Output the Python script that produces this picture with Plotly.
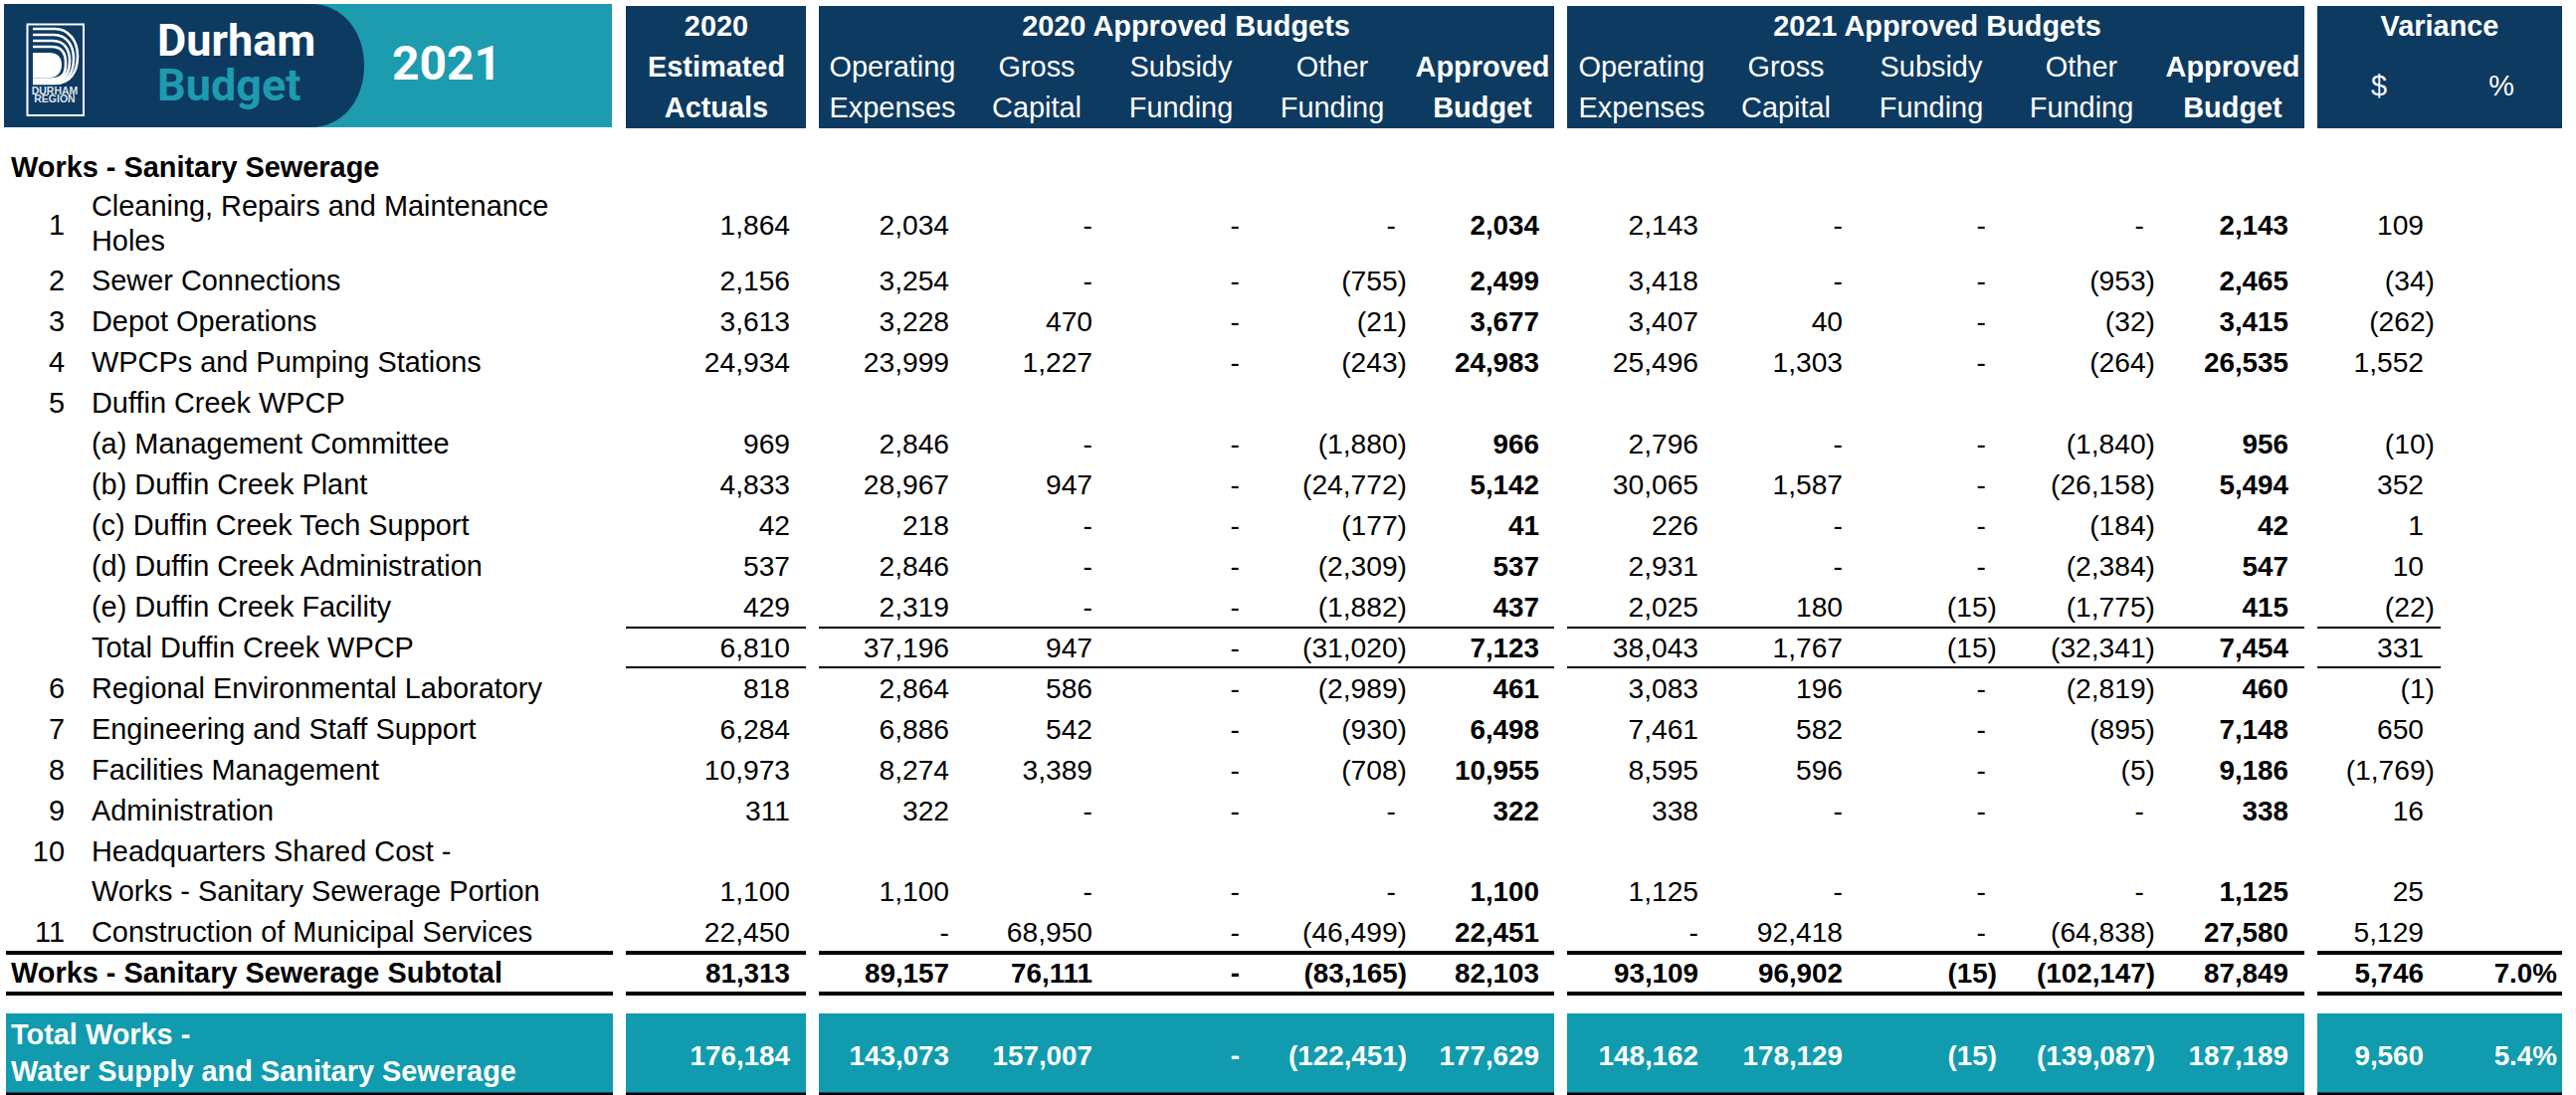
import plotly.graph_objects as go

# ---------- data ----------
row_numbers = ["1", "2", "3", "4", "5", "", "", "", "", "", "", "6", "7", "8", "9", "10", "", "11"]
row_labels = [
    "Cleaning, Repairs and Maintenance<br>Holes", "Sewer Connections", "Depot Operations",
    "WPCPs and Pumping Stations", "Duffin Creek WPCP", "(a) Management Committee",
    "(b) Duffin Creek Plant", "(c) Duffin Creek Tech Support", "(d) Duffin Creek Administration",
    "(e) Duffin Creek Facility", "Total Duffin Creek WPCP", "Regional Environmental Laboratory",
    "Engineering and Staff Support", "Facilities Management", "Administration",
    "Headquarters Shared Cost -", "Works - Sanitary Sewerage Portion", "Construction of Municipal Services",
]
estimated_2020 = [1864, 2156, 3613, 24934, None, 969, 4833, 42, 537, 429, 6810, 818, 6284, 10973, 311, None, 1100, 22450, 81313, 176184]
operating_2020 = [2034, 3254, 3228, 23999, None, 2846, 28967, 218, 2846, 2319, 37196, 2864, 6886, 8274, 322, None, 1100, 0, 89157, 143073]
gross_2020 = [0, 0, 470, 1227, None, 0, 947, 0, 0, 0, 947, 586, 542, 3389, 0, None, 0, 68950, 76111, 157007]
subsidy_2020 = [0, 0, 0, 0, None, 0, 0, 0, 0, 0, 0, 0, 0, 0, 0, None, 0, 0, 0, 0]
other_2020 = [0, -755, -21, -243, None, -1880, -24772, -177, -2309, -1882, -31020, -2989, -930, -708, 0, None, 0, -46499, -83165, -122451]
approved_2020 = [2034, 2499, 3677, 24983, None, 966, 5142, 41, 537, 437, 7123, 461, 6498, 10955, 322, None, 1100, 22451, 82103, 177629]
operating_2021 = [2143, 3418, 3407, 25496, None, 2796, 30065, 226, 2931, 2025, 38043, 3083, 7461, 8595, 338, None, 1125, 0, 93109, 148162]
gross_2021 = [0, 0, 40, 1303, None, 0, 1587, 0, 0, 180, 1767, 196, 582, 596, 0, None, 0, 92418, 96902, 178129]
subsidy_2021 = [0, 0, 0, 0, None, 0, 0, 0, 0, -15, -15, 0, 0, 0, 0, None, 0, 0, -15, -15]
other_2021 = [0, -953, -32, -264, None, -1840, -26158, -184, -2384, -1775, -32341, -2819, -895, -5, 0, None, 0, -64838, -102147, -139087]
approved_2021 = [2143, 2465, 3415, 26535, None, 956, 5494, 42, 547, 415, 7454, 460, 7148, 9186, 338, None, 1125, 27580, 87849, 187189]
variance_dollar = [109, -34, -262, 1552, None, -10, 352, 1, 10, -22, 331, -1, 650, -1769, 16, None, 25, 5129, 5746, 9560]
variance_percent = ["7.0%", "5.4%"]

# ---------- layout constants ----------
W, H = 2589, 1101
NAVY, TEAL_B, TEAL_T = "#0D3A61", "#1D9BAF", "#119BAE"
FONT = "Liberation Sans"
BANNER = "Roboto"
FS = 28.9      # labels and headers
FN = 28.2      # regular numbers
FB = 27.8      # bold numbers
DY = 2         # text baseline correction
ROW_Y = [227, 283, 324, 365, 406, 447, 488, 529, 570, 611, 652, 693, 734, 775, 816, 857, 897, 938, 979, 1062]
COLS = [  # values, right edge, bold body
    (estimated_2020, 794, False), (operating_2020, 954, False), (gross_2020, 1098, False),
    (subsidy_2020, 1246, False), (other_2020, 1403, False), (approved_2020, 1547, True),
    (operating_2021, 1707, False), (gross_2021, 1852, False), (subsidy_2021, 1996, False),
    (other_2021, 2155, False), (approved_2021, 2300, True), (variance_dollar, 2436, False),
]
PAREN = 11
BOXES = [(629, 810), (823, 1562), (1575, 2316), (2329, 2575)]

fig = go.Figure()
shapes = []


def rect(x0, y0, x1, y1, color):
    shapes.append(dict(type="rect", x0=x0, y0=y0, x1=x1, y1=y1, fillcolor=color, line_width=0, layer="below"))


def path(d, fill=None, line=None, width=0):
    shapes.append(dict(type="path", path=d, fillcolor=fill or "rgba(0,0,0,0)", layer="below",
                       line=dict(color=line or "rgba(0,0,0,0)", width=width)))


def hline(y, x0, x1, w):
    shapes.append(dict(type="line", x0=x0, x1=x1, y0=y, y1=y, line=dict(color="black", width=w), layer="above"))


def text(xs, ys, ts, pos, size=FS, bold=False, color="black", family=FONT, dy=DY):
    fig.add_trace(go.Scatter(
        x=xs, y=[y + dy for y in ys], text=ts, mode="text", textposition=pos, showlegend=False, hoverinfo="skip",
        textfont=dict(family=family, size=size, color=color, weight=700 if bold else 400)))


def fmt(v):
    if v is None:
        return ""
    if v == 0:
        return "-"
    return f"({-v:,})" if v < 0 else f"{v:,}"


# ---------- banner ----------
rect(4, 4, 615, 128, TEAL_B)
path("M4,4 L312,4 C345,4 366,32 366,66 C366,100 345,128 312,128 L4,128 Z", fill=NAVY)
rect(26.5, 23.5, 85, 117, "white")
rect(28.5, 25.5, 83, 115, NAVY)
for k in range(4):
    t, b, r = 29 + 6 * k, 84 - 1.5 * k, 78 - 4 * k
    m = 55 - 1.0 * k
    path(f"M33,{t} L{m},{t} C{m+14},{t} {r},{t+12} {r},{(t+b)/2} C{r},{b-10} {m+14},{b} {m},{b} L33,{b}",
         line="white", width=2.6)
path("M33,53 L50,53 C58,53 62,58 62,65 C62,72 58,78 50,78 L33,78 Z", fill="white")
text([55], [92], ["DURHAM"], "middle center", size=10.5, bold=True, color="#DDE6EE", dy=0)
text([55], [100.5], ["REGION"], "middle center", size=10.5, bold=True, color="#DDE6EE", dy=0)
text([158], [45], ["Durham"], "middle right", size=45, bold=True, color="white", family=BANNER, dy=0)
text([158], [90], ["Budget"], "middle right", size=45, bold=True, color=TEAL_B, family=BANNER, dy=0)
text([394], [68], ["2021"], "middle right", size=48, bold=True, color="white", family=BANNER, dy=0)

# ---------- header boxes ----------
for x0, x1 in BOXES:
    rect(x0, 6, x1, 129, NAVY)
text([720], [27], ["2020"], "middle center", bold=True, color="white")
text([720], [68], ["Estimated"], "middle center", bold=True, color="white")
text([720], [109], ["Actuals"], "middle center", bold=True, color="white")
text([1192, 1947, 2452], [27] * 3, ["2020 Approved Budgets", "2021 Approved Budgets", "Variance"],
     "middle center", bold=True, color="white")
hdr_x = [897, 1042, 1187, 1339, 1650, 1795, 1941, 2092]
text(hdr_x, [68] * 8, ["Operating", "Gross", "Subsidy", "Other"] * 2, "middle center", color="white")
text(hdr_x, [109] * 8, ["Expenses", "Capital", "Funding", "Funding"] * 2, "middle center", color="white")
text([1490, 2244], [68] * 2, ["Approved"] * 2, "middle center", bold=True, color="white")
text([1490, 2244], [109] * 2, ["Budget"] * 2, "middle center", bold=True, color="white")
text([2391, 2514], [87] * 2, ["$", "%"], "middle center", color="white")

# ---------- labels ----------
text([11], [169], ["Works - Sanitary Sewerage"], "middle right", bold=True)
n_y = ROW_Y[:18]
text([65] * 18, n_y, row_numbers, "middle left")
first_a, first_b = row_labels[0].split("<br>")
text([92, 92], [208, 243], [first_a, first_b], "middle right")
text([92] * 17, n_y[1:], row_labels[1:], "middle right")
text([11], [979], ["Works - Sanitary Sewerage Subtotal"], "middle right", bold=True)
rect(6, 1019, 616, 1099, TEAL_T)
text([11], [1041], ["Total Works -"], "middle right", bold=True, color="white")
text([11], [1078], ["Water Supply and Sanitary Sewerage"], "middle right", bold=True, color="white")

# ---------- values ----------
for x0, x1 in [(6, 616)] + BOXES:
    rect(x0, 1019, x1, 1099, TEAL_T)
    hline(958, x0, x1, 4)
    hline(999, x0, x1, 4)
    hline(1100, x0, x1, 3)
for x0, x1 in BOXES[:3]:
    hline(631, x0, x1, 2)
    hline(671, x0, x1, 2)
hline(631, 2329, 2453, 2)
hline(671, 2329, 2453, 2)

for vals, edge, bold in COLS:
    xs = [edge + PAREN if (v is not None and v < 0) else edge for v in vals]
    ts = [fmt(v) for v in vals]
    # body rows, subtotal (bold), grand total (white bold)
    if bold:
        text(xs[:-1], ROW_Y[:-1], ts[:-1], "middle left", size=FB, bold=True)
    else:
        text(xs[:-2], ROW_Y[:-2], ts[:-2], "middle left", size=FN)
        text(xs[-2:-1], ROW_Y[-2:-1], ts[-2:-1], "middle left", size=FB, bold=True)
    text(xs[-1:], ROW_Y[-1:], ts[-1:], "middle left", size=FB, bold=True, color="white")
text([2570], [979], variance_percent[:1], "middle left", size=FB, bold=True)
text([2570], [1062], variance_percent[1:], "middle left", size=FB, bold=True, color="white")

fig.update_layout(
    width=W, height=H, margin=dict(l=0, r=0, t=0, b=0), paper_bgcolor="white", plot_bgcolor="white",
    showlegend=False, shapes=shapes, hovermode=False,
    xaxis=dict(range=[0, W], visible=False, fixedrange=True),
    yaxis=dict(range=[H, 0], visible=False, fixedrange=True),
)
fig.write_html("out.html", config=dict(displayModeBar=False),
               post_script="document.body.style.margin='0';document.body.style.overflow='hidden';")
